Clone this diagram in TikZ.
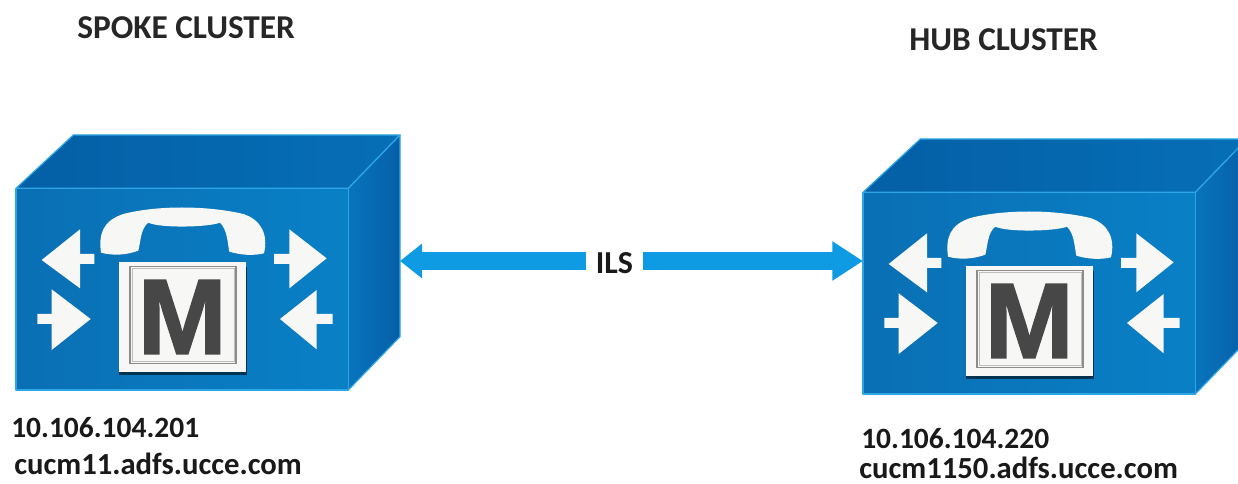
\documentclass[tikz,border=0pt]{standalone}
\usepackage{fontspec}
\setmainfont{Carlito}
\newfontfamily\marksans[FakeBold=1.6]{Liberation Sans Bold}
\usetikzlibrary{arrows.meta}
\definecolor{edgeblue}{HTML}{2EA6E6}
\definecolor{linkblue}{HTML}{0F9BE3}
\definecolor{frontA}{HTML}{0A6FB4}
\definecolor{frontB}{HTML}{0980C6}
\definecolor{topA}{HTML}{045FA6}
\definecolor{topB}{HTML}{066FB6}
\definecolor{sideA}{HTML}{0874BC}
\definecolor{sideB}{HTML}{055FA8}
\definecolor{iconwhite}{HTML}{F7F7F5}
\tikzset{
  faceedge/.style={draw=edgeblue,line width=.9pt,line join=round},
  icon/.style={fill=iconwhite,draw=none},
  iptext/.style={anchor=base west,inner sep=0pt,font=\fontsize{22.1}{24}\selectfont\bfseries,text=black!90},
  hosttext/.style={anchor=base west,inner sep=0pt,font=\fontsize{23}{24}\selectfont\bfseries,text=black!90},
  titletext/.style={anchor=base west,inner sep=0pt,font=\fontsize{25}{28}\selectfont\bfseries,text=black!85},
  linkbar/.style={draw=linkblue,line width=13.5pt},
  ucm/.pic={
    \begin{scope}[x=.25pt,y=-.25pt]
      \path[faceedge,left color=topA,right color=topB] (48,205) -- (220,45) -- (1200,45) -- (1045,205) -- cycle;
      \path[faceedge,left color=sideA,right color=sideB] (1045,205) -- (1200,45) -- (1200,650) -- (1045,810) -- cycle;
      \path[faceedge,left color=frontA,right color=frontB] (48,205) rectangle (1045,810);
      % arrows
      \path[icon] (125,420) -- (240,328) -- (240,402) -- (283,402) -- (283,432) -- (240,432) -- (240,505) -- cycle;
      \path[icon] (980,415) -- (868,328) -- (868,402) -- (822,402) -- (822,432) -- (868,432) -- (868,505) -- cycle;
      \path[icon] (272,597) -- (155,508) -- (155,582) -- (112,582) -- (112,612) -- (155,612) -- (155,690) -- cycle;
      \path[icon] (840,597) -- (950,510) -- (950,582) -- (998,582) -- (998,612) -- (950,612) -- (950,688) -- cycle;
      % handset
      \path[icon] (303,398) .. controls (295,340) and (310,302) .. (370,282)
        .. controls (470,256) and (620,256) .. (730,282)
        .. controls (785,300) and (805,345) .. (792,400)
        .. controls (760,408) and (720,405) .. (688,395)
        .. controls (682,365) and (682,330) .. (660,308)
        .. controls (625,322) and (480,325) .. (445,308)
        .. controls (422,325) and (422,365) .. (415,392)
        .. controls (380,405) and (340,408) .. (303,398) -- cycle;
      % M plate
      \path[fill=black!55!frontA] (358,440) rectangle (740,765);
      \path[fill=iconwhite] (358,425) rectangle (738,755);
      \path[draw=black!45,line width=.9pt,fill=iconwhite] (390,440) rectangle (708,730);
      \path[draw=black!25,line width=.5pt] (396,446) rectangle (702,724);
      \node[inner sep=0pt,text=black!72] (mark) at (547,591) {\marksans\fontsize{80}{80}\selectfont M};
    \end{scope}
  }
}
\begin{document}
\begin{tikzpicture}[x=.75pt,y=-.75pt]
  \useasboundingbox (0,0) rectangle (1238,484);
  \clip (0,0) rectangle (1238,484);
  \fill[white] (0,0) rectangle (1238,484);
  \pic (spoke) at (0,120) {ucm};
  \pic (hub) at (847,124) {ucm};
  \coordinate (spokeport) at (400,261);
  \coordinate (hubport) at (863,261);
  \node[inner sep=0pt,minimum width=42.75pt,minimum height=20pt,font=\fontsize{24}{26}\selectfont\bfseries,text=black!90] (ils) at (614.5,263) {ILS};
  \draw[linkbar,-{Triangle[length=16.5pt,width=25pt]}] (ils.west |- spokeport) -- (spokeport);
  \draw[linkbar,-{Triangle[length=23pt,width=28pt]}] (ils.east |- hubport) -- (hubport);
  \node[titletext] (spokename) at (77,39) {SPOKE CLUSTER};
  \node[titletext] (hubname) at (909,51) {HUB CLUSTER};
  \node[iptext] (spokeip) at (11,437) {10.106.104.201};
  \node[hosttext] (spokehost) at (14,474) {cucm11.adfs.ucce.com};
  \node[iptext] (hubip) at (861,448) {10.106.104.220};
  \node[hosttext] (hubhost) at (859,478) {cucm1150.adfs.ucce.com};
\end{tikzpicture}
\end{document}
